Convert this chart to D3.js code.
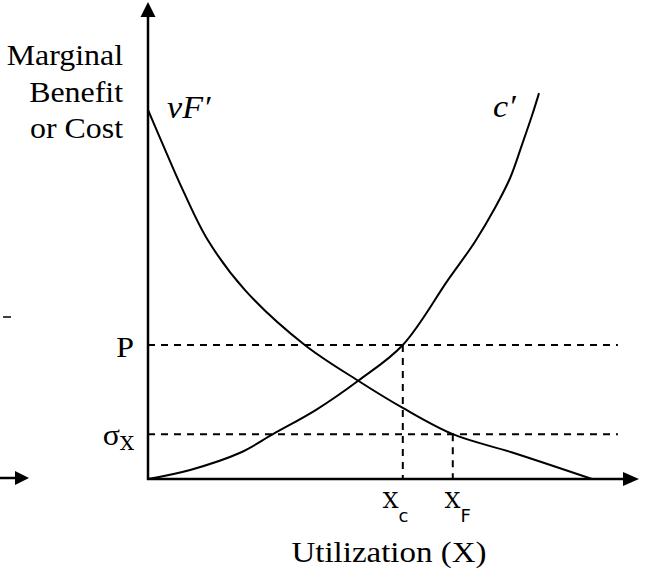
<!DOCTYPE html>
<html>
<head>
<meta charset="utf-8">
<script src="https://cdn.jsdelivr.net/npm/d3@7"></script>
<style>
  body { margin: 0; background: #fff; }
</style>
</head>
<body>
<svg id="chart"></svg>
<script>
// curves, both axes in 0..100 units
const benefitX = [0, 3.5, 7.1, 12.2, 19.8, 32.0, 42.9, 52.0, 62.2, 74.5, 90.6];
const benefitY = [77.4, 69.0, 60.6, 50.1, 39.6, 28.1, 20.6, 14.9, 9.4, 5.5, 0];
const costX = [0, 8.6, 18.8, 25.5, 34.3, 42.9, 52.0, 61.2, 66.7, 70.8, 73.9, 76.3, 78.4, 79.8];
const costY = [0, 1.9, 5.5, 9.4, 14.5, 20.6, 28.1, 41.7, 49.7, 56.8, 63.1, 70.0, 76.3, 80.9];

// dashed guide levels
const levelNames = ["P", "σ"];
const levelValues = [28.1, 9.4];
const quantityNames = ["X", "X"];
const quantitySubs = ["c", "F"];
const quantityValues = [52.0, 62.2];
const guideEnd = 95.9;

const yTitle = ["Marginal", "Benefit", "or Cost"];
const xTitle = "Utilization (X)";

const W = 645, H = 581;
const serif = "'Liberation Serif', 'Times New Roman', Times, serif";
const svg = d3.select("#chart").attr("width", W).attr("height", H);

const x = d3.scaleLinear().domain([0, 100]).range([148, 638]);
const y = d3.scaleLinear().domain([0, 100]).range([479, 2]);

const stretch = "scale(1.1,1)";

// dashed guides
svg.append("g")
    .selectAll("line")
    .data(levelValues)
    .join("line")
    .attr("x1", x(0))
    .attr("x2", x(guideEnd))
    .attr("y1", d => y(d))
    .attr("y2", d => y(d))
    .attr("stroke", "#000")
    .attr("stroke-width", 2)
    .attr("stroke-dasharray", "7,6");

svg.append("g")
    .selectAll("line")
    .data(quantityValues)
    .join("line")
    .attr("x1", d => x(d))
    .attr("x2", d => x(d))
    .attr("y1", (d, i) => y(levelValues[i]))
    .attr("y2", y(0))
    .attr("stroke", "#000")
    .attr("stroke-width", 2)
    .attr("stroke-dasharray", "7,6");

// curves
const line = d3.line()
    .x(d => x(d[0]))
    .y(d => y(d[1]))
    .curve(d3.curveCatmullRom.alpha(0.5));

svg.append("path")
    .datum(d3.zip(benefitX, benefitY))
    .attr("d", line)
    .attr("fill", "none")
    .attr("stroke", "#000")
    .attr("stroke-width", 2);

svg.append("path")
    .datum(d3.zip(costX, costY))
    .attr("d", line)
    .attr("fill", "none")
    .attr("stroke", "#000")
    .attr("stroke-width", 2);

// axes with arrow heads
svg.append("line")
    .attr("x1", x(0)).attr("x2", x(0))
    .attr("y1", y(0) + 1).attr("y2", y(100) + 12)
    .attr("stroke", "#000").attr("stroke-width", 2.5);
svg.append("path")
    .attr("d", `M${x(0)},${y(100)} L${x(0) - 7.5},${y(100) + 15} L${x(0) + 7.5},${y(100) + 15} Z`)
    .attr("fill", "#000");

svg.append("line")
    .attr("x1", x(0) - 1).attr("x2", x(100) - 12)
    .attr("y1", y(0)).attr("y2", y(0))
    .attr("stroke", "#000").attr("stroke-width", 2.5);
svg.append("path")
    .attr("d", `M${x(100) + 1},${y(0)} L${x(100) - 15},${y(0) - 7} L${x(100) - 15},${y(0) + 7} Z`)
    .attr("fill", "#000");

// stray fragments at the left edge
svg.append("line")
    .attr("x1", 0).attr("x2", 18).attr("y1", 478).attr("y2", 478)
    .attr("stroke", "#000").attr("stroke-width", 2.5);
svg.append("path")
    .attr("d", "M29,478 L15,471 L15,485 Z")
    .attr("fill", "#000");
svg.append("line")
    .attr("x1", 3).attr("x2", 11).attr("y1", 317).attr("y2", 317)
    .attr("stroke", "#000").attr("stroke-width", 1.5);

// y title
svg.append("g")
    .selectAll("text")
    .data(yTitle)
    .join("text")
    .attr("transform", (d, i) => `translate(123,${65 + i * 36.5}) ${stretch}`)
    .attr("text-anchor", "end")
    .style("font-family", serif)
    .style("font-size", "29px")
    .text(d => d);

// x title
svg.append("text")
    .attr("transform", `translate(389,562) ${stretch}`)
    .attr("text-anchor", "middle")
    .style("font-family", serif)
    .style("font-size", "30px")
    .text(xTitle);

// level labels
const lv = svg.append("g")
    .selectAll("text")
    .data(levelNames)
    .join("text")
    .attr("transform", (d, i) => `translate(134,${y(levelValues[i]) + (i === 0 ? 12 : 11)}) ${stretch}`)
    .attr("text-anchor", "end")
    .style("font-family", serif)
    .style("font-size", "29px");
lv.append("tspan").text(d => d);
lv.filter((d, i) => i === 1)
    .append("tspan")
    .style("font-family", "'DejaVu Serif', serif")
    .style("font-size", "18px")
    .attr("dy", 5)
    .text("X");

// quantity labels
const qv = svg.append("g")
    .selectAll("text")
    .data(quantityNames)
    .join("text")
    .attr("transform", (d, i) => `translate(${x(quantityValues[i]) - (i === 0 ? 20 : 8)},508)`)
    .style("font-family", "'DejaVu Serif', serif")
    .style("font-size", "22px");
qv.append("tspan").text(d => d);
qv.append("tspan")
    .style("font-family", "'DejaVu Sans', sans-serif")
    .style("font-size", "18px")
    .attr("dy", 14)
    .text((d, i) => quantitySubs[i]);

// curve labels
svg.append("text")
    .attr("transform", `translate(167,118) ${stretch}`)
    .style("font-family", serif)
    .style("font-style", "italic")
    .style("font-size", "31px")
    .text("vF\u2032");
svg.append("text")
    .attr("transform", `translate(493,117) ${stretch}`)
    .style("font-family", serif)
    .style("font-style", "italic")
    .style("font-size", "31px")
    .text("c\u2032");
</script>
</body>
</html>
